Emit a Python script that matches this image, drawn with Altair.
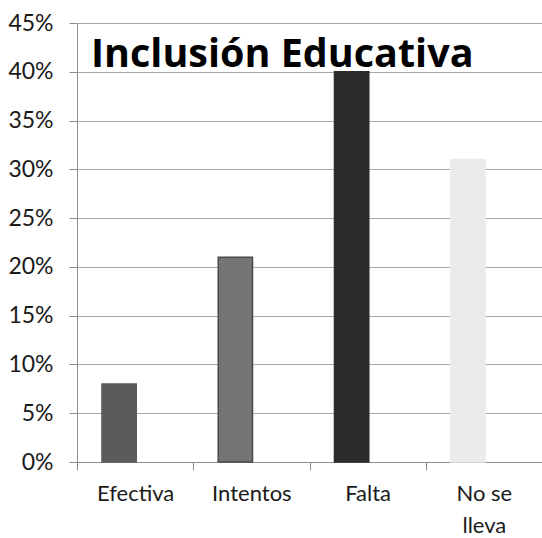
import altair as alt
import pandas as pd

categories = ["Efectiva", "Intentos", "Falta", "No se lleva"]
values = [0.08, 0.21, 0.40, 0.31]
fills = ["#5b5b5b", "#747474", "#2b2b2b", "#ebebeb"]
strokes = ["#5b5b5b", "#4a4a4a", "#2b2b2b", "#ebebeb"]
title_text = "Inclusión Educativa"

df = pd.DataFrame({"cat": categories, "val": values, "fill": fills, "stroke": strokes})

FONT = "Lato"

x_enc = alt.X(
    "cat:N",
    sort=categories,
    scale=alt.Scale(paddingInner=0, paddingOuter=0),
    axis=alt.Axis(
        title=None,
        labelAngle=0,
        labelFontSize=22,
        labelColor="#1a1a1a",
        labelFont=FONT,
        labelPadding=23,
        labelLineHeight=32,
        labelBaseline="middle",
        tickBand="extent",
        tickSize=8,
        tickColor="#8c8c8c",
        domainColor="#8c8c8c",
        labelExpr="datum.value == 'No se lleva' ? ['No se', 'lleva'] : datum.value",
    ),
)

bars = alt.Chart(df).mark_bar(
    width=alt.RelativeBandSize(0.295), xOffset=-16, strokeWidth=1.5
).encode(
    x=x_enc,
    y=alt.Y(
        "val:Q",
        scale=alt.Scale(domain=[0, 0.45], nice=False),
        axis=alt.Axis(
            title=None,
            format=".0%",
            values=[i * 0.05 for i in range(10)],
            labelFontSize=23,
            labelColor="#1a1a1a",
            labelFont=FONT,
            labelPadding=16,
            tickSize=8,
            tickColor="#8c8c8c",
            domainColor="#8c8c8c",
            grid=True,
            gridColor="#a6a6a6",
            gridWidth=1,
        ),
    ),
    fill=alt.Fill("fill:N", scale=None),
    stroke=alt.Stroke("stroke:N", scale=None),
)

title = alt.Chart(pd.DataFrame({"t": [title_text]})).mark_text(
    font="Open Sans", fontWeight="bold", fontSize=39.5, align="left", baseline="alphabetic", color="#000000"
).encode(text="t:N", x=alt.value(14), y=alt.value(44))

chart = alt.layer(bars, title).properties(
    width=465,
    height=439,
    autosize=alt.AutoSizeParams(type="none"),
    padding={"left": 77, "top": 23, "right": 0, "bottom": 76},
).configure_view(stroke=None)

chart.save("out.html", embed_options={"renderer": "svg", "actions": False})
